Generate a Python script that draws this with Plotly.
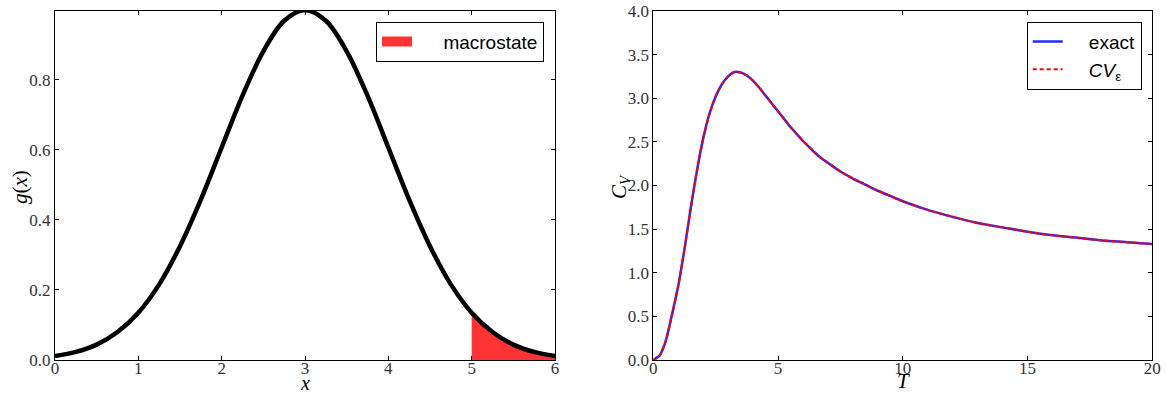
import plotly.graph_objects as go

# ---- Left panel data: g(x) ----
x_vals = [0.0, 0.25, 0.5, 0.75, 1.0, 1.25, 1.5, 1.75, 2.0, 2.25, 2.5, 2.75, 3.0,
          3.25, 3.5, 3.75, 4.0, 4.25, 4.5, 4.75, 5.0, 5.25, 5.5, 5.75, 6.0]
g_vals = [0.011, 0.023, 0.044, 0.080, 0.135, 0.216, 0.325, 0.458, 0.607, 0.755, 0.882, 0.969, 1.0,
          0.969, 0.882, 0.755, 0.607, 0.458, 0.325, 0.216, 0.135, 0.080, 0.044, 0.023, 0.011]
macro_x = [5.0, 5.25, 5.5, 5.75, 6.0]
macro_g = [0.135, 0.080, 0.044, 0.023, 0.011]

# ---- Right panel data: C_V(T) ----
T_vals = [0.0, 0.25, 0.5, 0.75, 1.0, 1.25, 1.5, 1.75, 2.0, 2.25, 2.5, 2.75, 3.0, 3.25, 3.5,
          3.75, 4.0, 4.25, 4.5, 4.75, 5.0, 5.25, 5.5, 5.75, 6.0, 6.25, 6.5, 6.75, 7.0, 7.5,
          8.0, 8.5, 9.0, 9.5, 10.0, 11.0, 12.0, 13.0, 14.0, 15.0, 16.0, 17.0, 18.0, 19.0, 20.0]
cv_exact = [0.0, 0.05, 0.22, 0.52, 0.85, 1.27, 1.74, 2.17, 2.54, 2.82, 3.02, 3.16, 3.25, 3.30, 3.295,
            3.26, 3.20, 3.12, 3.03, 2.94, 2.85, 2.76, 2.67, 2.59, 2.51, 2.44, 2.37, 2.31, 2.26, 2.16,
            2.08, 2.01, 1.94, 1.88, 1.82, 1.72, 1.64, 1.57, 1.52, 1.47, 1.43, 1.40, 1.37, 1.35, 1.33]
cv_eps = list(cv_exact)

left_xticks = [0, 1, 2, 3, 4, 5, 6]
left_yticks = [0.0, 0.2, 0.4, 0.6, 0.8]
right_xticks = [0, 5, 10, 15, 20]
right_yticks = [0.0, 0.5, 1.0, 1.5, 2.0, 2.5, 3.0, 3.5, 4.0]

W, H = 1166, 394
fig = go.Figure()

fig.add_trace(go.Scatter(x=macro_x, y=macro_g, mode="lines", fill="tozeroy",
                         fillcolor="rgb(255,51,51)", line=dict(width=0, color="rgb(255,51,51)", shape="spline"),
                         showlegend=False, xaxis="x", yaxis="y"))
# legend entry for the filled macrostate region
fig.add_trace(go.Scatter(x=[None], y=[None], mode="lines",
                         line=dict(width=14, color="rgb(255,51,51)"),
                         name="\u00a0\u00a0\u00a0\u00a0\u00a0macrostate", xaxis="x", yaxis="y", legend="legend"))
fig.add_trace(go.Scatter(x=x_vals, y=g_vals, mode="lines", line=dict(color="black", width=4.5, shape="spline"),
                         showlegend=False, xaxis="x", yaxis="y"))

fig.add_trace(go.Scatter(x=T_vals, y=cv_exact, mode="lines",
                         line=dict(color="rgb(40,40,255)", width=2.5, shape="spline", smoothing=0.6),
                         name="\u00a0\u00a0\u00a0\u00a0exact", xaxis="x2", yaxis="y2", legend="legend2",
                         legendgroup="a"))
fig.add_trace(go.Scatter(x=T_vals, y=cv_eps, mode="lines",
                         line=dict(color="red", width=2.2, dash="4px,3px", shape="spline", smoothing=0.6),
                         name="\u00a0\u00a0\u00a0\u00a0<i>CV</i><sub>\u03b5</sub>", xaxis="x2", yaxis="y2",
                         legend="legend2", legendgroup="b"))

tickfont = dict(family="Liberation Serif", size=17, color="#333")
common = dict(showline=True, linecolor="black", linewidth=1, mirror="ticks", ticks="inside",
              ticklen=4, tickcolor="black", showgrid=False, zeroline=False, tickfont=tickfont,
              automargin=False)

fig.update_layout(
    width=W, height=H, margin=dict(l=0, r=0, t=0, b=0, autoexpand=False),
    plot_bgcolor="white", paper_bgcolor="white",
    xaxis=dict(domain=[55 / W, 555 / W], range=[0, 6], tickvals=left_xticks,
               ticktext=[str(v) for v in left_xticks], anchor="y", ticklabelstandoff=-7, **common),
    yaxis=dict(domain=[34 / H, 383 / H], range=[0, 0.997], tickvals=left_yticks,
               ticktext=[f"{v:.1f}" for v in left_yticks], anchor="x", **common),
    xaxis2=dict(domain=[653.3 / W, 1152.3 / W], range=[0, 20], tickvals=right_xticks,
                ticktext=[str(v) for v in right_xticks], anchor="y2", ticklabelstandoff=-7, **common),
    yaxis2=dict(domain=[34 / H, 383 / H], range=[0, 4], tickvals=right_yticks,
                ticktext=[f"{v:.1f}" for v in right_yticks], anchor="x2", **common),
    legend=dict(x=544 / W, xanchor="right", y=(H - 21.7) / H, yanchor="top",
                bordercolor="black", borderwidth=1, bgcolor="white",
                font=dict(family="Liberation Sans", size=19, color="black")),
    legend2=dict(x=1141.7 / W, xanchor="right", y=(H - 21.7) / H, yanchor="top",
                 bordercolor="black", borderwidth=1, bgcolor="white", traceorder="grouped",
                 tracegroupgap=0,
                 font=dict(family="Liberation Sans", size=19, color="black")),
    showlegend=True,
)

labfont = dict(family="Liberation Serif", size=21, color="black")
fig.add_annotation(text="<i>x</i>", x=305 / W, y=(H - 383) / H, xref="paper", yref="paper",
                   xanchor="center", yanchor="middle", showarrow=False,
                   font=dict(family="Liberation Serif", size=20, color="black"))
fig.add_annotation(text="<i>g</i>(<i>x</i>)", x=20 / W, y=(H - 187) / H, xref="paper", yref="paper",
                   xanchor="center", yanchor="middle", showarrow=False, textangle=-90, font=labfont)
fig.add_annotation(text="<i>T</i>", x=903 / W, y=(H - 381) / H, xref="paper", yref="paper",
                   xanchor="center", yanchor="middle", showarrow=False,
                   font=dict(family="Liberation Serif", size=21, color="black"))
fig.add_annotation(text="<i>C</i><sub><i>V</i></sub>", x=620 / W, y=(H - 187) / H, xref="paper", yref="paper",
                   xanchor="center", yanchor="middle", showarrow=False, textangle=-90, font=labfont)

fig.write_html("out.html", config={"displayModeBar": False},
               post_script="document.body.style.margin='0';document.body.style.padding='0';"
                           "document.body.style.overflow='hidden';")
